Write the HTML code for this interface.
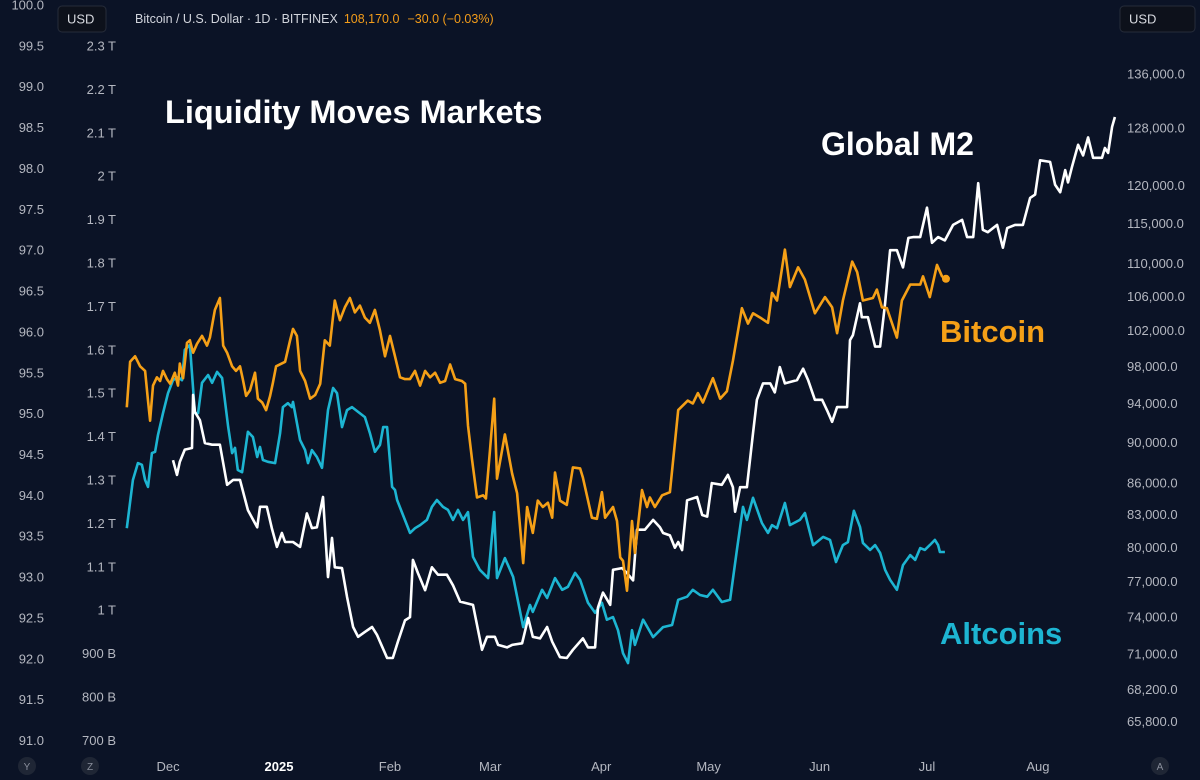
<!DOCTYPE html>
<html><head><meta charset="utf-8"><style>
html,body{margin:0;padding:0;background:#0b1326;}
#wrap{position:relative;width:1200px;height:780px;overflow:hidden;background:#0b1326;font-family:"Liberation Sans",sans-serif;}
svg{position:absolute;left:0;top:0;}
</style></head><body>
<div id="wrap">
<svg id="chart" width="1200" height="780" viewBox="0 0 1200 780">
  <g id="axes"></g>
  <g id="series"></g>
  <rect x="58" y="6" width="48" height="26" rx="4" fill="#0d111b" stroke="#262c3a"/>
  <text x="67" y="23.5" font-size="13" fill="#d8dae0">USD</text>
  <rect x="1120" y="6" width="75" height="26" rx="4" fill="#0d111b" stroke="#262c3a"/>
  <text x="1129" y="23.5" font-size="13" fill="#d8dae0">USD</text>
  <text x="135" y="23" font-size="12.5"><tspan fill="#d1d4dc">Bitcoin / U.S. Dollar · 1D · BITFINEX</tspan><tspan fill="#f39c1a" dx="6">108,170.0</tspan><tspan fill="#f39c1a" dx="8">−30.0 (−0.03%)</tspan></text>
  <text x="165" y="123" font-size="32.5" font-weight="bold" fill="#ffffff">Liquidity Moves Markets</text>
  <text x="821" y="155" font-size="32" font-weight="bold" fill="#ffffff">Global M2</text>
  <text x="940" y="342" font-size="31" font-weight="bold" fill="#f5a017">Bitcoin</text>
  <text x="940" y="644" font-size="31" font-weight="bold" fill="#1db5d2">Altcoins</text>
</svg>
</div>
<script>
// Days since 2025-01-01
const btcDays=[-42.5,-41.6,-40.2,-38.8,-37.4,-36.6,-36.0,-35.2,-34.1,-33.2,-32.4,-31.3,-30.4,-29.1,-28.2,-27.7,-26.8,-25.7,-24.9,-24.0,-22.9,-21.5,-20.1,-19.3,-17.9,-16.5,-15.6,-14.5,-13.1,-12.0,-10.9,-10.1,-9.2,-8.1,-6.7,-5.9,-4.7,-3.6,-2.5,-1.7,-0.8,1.7,3.1,3.9,5.0,5.9,7.3,8.7,10.1,11.5,12.8,14.2,15.6,17.0,18.4,19.8,21.2,22.6,24.0,25.4,26.8,28.2,29.6,31.0,32.4,33.8,35.2,36.6,38.0,39.4,40.8,42.2,43.6,45.0,46.4,47.8,49.2,51.1,52.0,52.8,53.9,55.3,57.0,57.8,58.9,60.1,60.9,63.1,65.1,66.5,68.2,69.3,70.9,72.3,73.7,75.1,76.3,77.1,78.5,80.4,82.1,84.1,84.9,87.4,88.8,90.2,91.1,93.3,94.4,95.3,96.1,97.2,98.6,99.4,101.4,102.8,103.6,105.0,107.0,109.2,111.5,114.2,115.6,117.0,118.4,121.2,123.2,125.1,126.8,129.3,131.0,132.4,134.4,136.6,137.7,139.1,141.3,142.7,145.0,146.9,149.7,152.5,154.5,155.9,157.5,160.1,161.5,163.1,165.9,167.0,168.4,169.8,172.6,174.0,176.3,179.1,179.9,181.8,183.8,185.2,186.3];
// Bitcoin price, thousands USD
const btcPrice=[93.6,98.5,99.1,98.0,97.5,94.3,92.2,95.9,96.8,96.4,97.5,96.6,96.1,97.3,95.9,98.3,96.7,100.6,100.9,99.5,100.5,101.4,100.3,101.2,104.4,105.8,100.3,99.5,98.0,97.5,98.0,96.6,94.8,95.4,97.3,94.5,94.1,93.3,94.8,96.2,98.0,98.5,100.9,102.2,101.4,97.5,96.4,94.5,94.9,96.1,100.9,100.3,105.5,103.2,104.7,105.8,104.1,104.9,103.5,102.9,104.4,102.0,99.1,101.4,99.1,96.8,96.6,96.6,97.5,95.9,97.5,96.8,97.3,96.2,96.4,98.2,96.6,96.4,96.1,91.7,88.3,84.6,84.8,84.5,89.1,94.5,86.4,90.8,86.9,85.0,78.6,83.7,81.3,84.3,83.7,84.1,82.7,87.0,84.3,83.9,87.5,87.4,86.5,82.7,82.6,85.1,82.7,83.7,82.4,79.1,78.8,76.2,82.4,79.5,85.3,83.7,84.6,83.7,84.8,85.1,93.3,94.3,94.0,95.1,94.1,96.7,94.5,95.3,98.6,104.6,102.8,104.0,103.5,102.9,106.4,105.5,111.7,107.1,109.5,108.0,104.0,105.9,104.7,101.7,105.5,110.2,108.9,105.5,105.8,106.8,104.7,104.6,101.2,105.5,107.4,107.4,108.4,105.9,109.8,108.4,108.1];
const altDays=[-42.5,-40.8,-39.4,-38.3,-37.4,-36.6,-35.5,-34.6,-33.8,-32.4,-31.0,-29.6,-28.2,-27.1,-26.3,-24.9,-23.5,-22.6,-21.5,-19.8,-18.7,-17.3,-15.9,-14.2,-13.1,-12.3,-11.5,-10.3,-8.7,-7.3,-6.1,-5.3,-4.5,-3.1,-1.1,0.3,1.1,2.5,3.6,3.9,5.9,7.3,8.1,9.2,10.6,12.0,13.7,15.1,16.2,17.6,19.0,20.4,22.1,24.0,25.4,26.8,28.2,29.1,30.2,31.6,32.4,33.0,34.4,36.6,38.0,39.4,41.3,42.7,44.1,45.8,47.2,48.6,50.0,51.4,52.8,54.2,56.1,58.4,60.1,60.9,63.1,65.4,68.2,70.1,70.9,73.5,74.9,77.1,79.1,80.7,82.7,84.1,86.3,88.3,90.2,91.6,93.3,94.7,96.1,97.5,98.6,99.4,101.7,104.5,107.3,109.8,111.5,114.0,115.6,117.6,119.6,121.2,123.7,126.0,127.9,129.6,130.7,132.4,134.9,136.6,137.7,139.1,141.3,142.7,145.5,146.9,149.2,152.0,153.9,155.6,157.5,158.9,160.6,162.3,163.1,165.1,166.5,167.9,169.3,170.7,172.6,174.3,176.3,177.7,179.1,180.4,181.8,183.2,184.1,184.6,186.0];
// Altcoin market cap, trillions USD
const altCap=[1.189,1.300,1.339,1.335,1.300,1.284,1.362,1.365,1.404,1.454,1.500,1.530,1.537,1.530,1.600,1.611,1.454,1.454,1.524,1.542,1.524,1.549,1.535,1.422,1.362,1.374,1.323,1.318,1.411,1.399,1.353,1.376,1.346,1.342,1.339,1.408,1.468,1.477,1.468,1.480,1.392,1.369,1.339,1.369,1.353,1.328,1.461,1.512,1.500,1.422,1.461,1.468,1.457,1.445,1.408,1.365,1.381,1.422,1.422,1.284,1.277,1.254,1.224,1.178,1.189,1.196,1.208,1.238,1.254,1.238,1.231,1.208,1.231,1.208,1.226,1.123,1.093,1.074,1.226,1.074,1.120,1.077,0.961,1.012,0.996,1.047,1.028,1.074,1.047,1.054,1.086,1.070,1.017,0.994,1.017,0.978,0.984,0.954,0.901,0.878,0.954,0.920,0.978,0.938,0.961,0.966,1.024,1.031,1.047,1.035,1.031,1.047,1.019,1.024,1.139,1.238,1.208,1.259,1.201,1.178,1.196,1.189,1.247,1.196,1.208,1.224,1.150,1.169,1.162,1.111,1.150,1.157,1.229,1.192,1.155,1.139,1.150,1.132,1.093,1.070,1.047,1.104,1.127,1.116,1.143,1.139,1.150,1.162,1.150,1.134,1.134];
const m2Days=[-29.6,-28.5,-27.7,-26.3,-24.3,-24.0,-23.5,-22.1,-20.7,-18.7,-16.5,-14.5,-12.8,-10.9,-8.7,-6.1,-5.3,-3.4,-2.0,-0.6,0.8,1.7,3.9,5.9,7.8,9.2,10.6,12.3,13.7,14.8,15.6,17.6,19.0,20.7,22.1,24.0,26.0,27.4,30.2,31.8,33.2,35.2,36.6,37.4,38.8,40.8,42.7,44.4,46.9,48.6,50.6,54.2,56.7,58.1,60.3,61.2,63.7,65.1,67.9,69.6,70.9,72.9,74.9,76.3,78.5,80.4,82.1,84.9,86.3,88.3,89.1,90.5,92.5,93.3,95.8,97.2,98.9,100.0,102.2,104.5,106.4,107.3,109.2,110.6,111.5,112.6,114.0,116.8,118.2,119.6,120.9,123.7,125.4,126.8,127.4,128.8,130.7,132.4,133.5,135.2,137.2,138.5,139.9,141.3,144.7,146.4,147.8,149.7,151.7,153.1,154.5,155.9,158.7,159.5,160.3,162.3,162.8,164.5,166.5,167.9,169.3,170.7,172.6,174.3,175.8,177.1,179.1,181.0,182.4,184.1,186.0,188.3,190.8,192.2,193.9,195.3,196.6,198.0,200.6,202.2,203.4,205.6,207.8,209.8,211.2,212.6,215.4,216.8,218.2,219.6,220.4,221.5,223.2,224.6,226.0,227.4,229.9,230.7,231.6,232.7,233.5];
// Global M2 index (left outer axis)
const m2Index=[94.43,94.25,94.41,94.56,94.58,95.23,95.02,94.92,94.64,94.62,94.62,94.13,94.19,94.19,93.82,93.61,93.86,93.86,93.60,93.37,93.54,93.43,93.43,93.37,93.78,93.60,93.61,93.98,93.00,93.48,93.12,93.11,92.76,92.39,92.27,92.33,92.39,92.29,92.01,92.01,92.21,92.47,92.51,93.21,93.05,92.84,93.12,93.03,93.03,92.90,92.70,92.66,92.11,92.27,92.27,92.17,92.14,92.17,92.19,92.50,92.27,92.25,92.39,92.21,92.02,92.01,92.11,92.25,92.14,92.14,92.63,92.81,92.66,93.09,93.11,93.05,92.96,93.58,93.58,93.70,93.61,93.54,93.51,93.36,93.43,93.33,93.94,93.98,93.76,93.74,94.15,94.13,94.25,94.10,93.80,94.10,94.10,94.76,95.17,95.37,95.37,95.26,95.57,95.37,95.41,95.55,95.41,95.17,95.17,95.04,94.90,95.08,95.08,95.90,95.96,96.35,96.18,96.18,95.82,95.82,96.35,97.00,97.00,96.79,97.15,97.16,97.16,97.52,97.09,97.16,97.12,97.31,97.37,97.16,97.16,97.82,97.25,97.22,97.31,97.03,97.27,97.31,97.31,97.64,97.68,98.10,98.08,97.80,97.71,97.98,97.83,98.02,98.29,98.16,98.38,98.13,98.13,98.25,98.19,98.51,98.63];
const leftTicks=["100.0","99.5","99.0","98.5","98.0","97.5","97.0","96.5","96.0","95.5","95.0","94.5","94.0","93.5","93.0","92.5","92.0","91.5","91.0"];
const capTicks=[2.3,2.2,2.1,2.0,1.9,1.8,1.7,1.6,1.5,1.4,1.3,1.2,1.1,1.0,0.9,0.8,0.7];
const capTickLabels=["2.3 T","2.2 T","2.1 T","2 T","1.9 T","1.8 T","1.7 T","1.6 T","1.5 T","1.4 T","1.3 T","1.2 T","1.1 T","1 T","900 B","800 B","700 B"];
const priceTicks=[136000,128000,120000,115000,110000,106000,102000,98000,94000,90000,86000,83000,80000,77000,74000,71000,68200,65800];
const monthLabels=["Dec","2025","Feb","Mar","Apr","May","Jun","Jul","Aug"];
const monthDays=[-31,0,31,59,90,120,151,181,212];

const NS="http://www.w3.org/2000/svg";
const xDay=d=>279+d*3.58;
const yM2=v=>5+(100-v)*81.73;
const yCap=v=>46+(2.3-v)*434;
const yPrice=p=>74+(Math.log(136000)-Math.log(p))*892;

const axes=document.getElementById('axes');
const series=document.getElementById('series');
function txt(parent,x,y,s,anchor,size,fill,weight){
  const t=document.createElementNS(NS,'text');
  t.setAttribute('x',x);t.setAttribute('y',y);
  t.setAttribute('text-anchor',anchor);t.setAttribute('font-size',size);
  t.setAttribute('fill',fill);if(weight)t.setAttribute('font-weight',weight);
  t.textContent=s;parent.appendChild(t);return t;
}
leftTicks.forEach(s=>{
  const t=txt(axes,44,yM2(parseFloat(s))+4.5,s,'end',13,'#b4b7c0');
  
  
});
capTicks.forEach((v,i)=>{
  const t=txt(axes,116,yCap(v)+4.5,capTickLabels[i],'end',13,'#b4b7c0');
  
  
});
priceTicks.forEach(p=>{
  const t=txt(axes,1127,yPrice(p)+4.5,p.toLocaleString('en-US')+'.0','start',13,'#b4b7c0');
  
  
});
monthLabels.forEach((m,i)=>{
  const bold=m==='2025';
  const t=txt(axes,xDay(monthDays[i]),771,m,'middle',13,bold?'#ffffff':'#b4b7c0',bold?'bold':null);
  
  
});
[[27,'Y'],[90,'Z'],[1160,'A']].forEach(([x,l])=>{
  const c=document.createElementNS(NS,'circle');
  c.setAttribute('cx',x);c.setAttribute('cy',766);c.setAttribute('r',9);c.setAttribute('fill','#1f2635');
  
  
  axes.appendChild(c);
  const t=txt(axes,x,770,l,'middle',10,'#8a8f9c');
  
  
});
function line(days,vals,yf,color,name){
  const p=document.createElementNS(NS,'path');
  let d='';
  days.forEach((dd,i)=>{d+=(i?'L':'M')+xDay(dd).toFixed(1)+','+yf(vals[i]).toFixed(1);});
  p.setAttribute('d',d);p.setAttribute('fill','none');p.setAttribute('stroke',color);
  p.setAttribute('stroke-width','2.6');p.setAttribute('stroke-linejoin','round');
  
  
  series.appendChild(p);
}
line(altDays,altCap,yCap,'#1db5d2','altcoins-line');
line(m2Days,m2Index,yM2,'#ffffff','global-m2-line');
line(btcDays,btcPrice.map(v=>v*1000),yPrice,'#f5a017','bitcoin-line');
const last=btcDays.length-1;
const dot=document.createElementNS(NS,'circle');
dot.setAttribute('cx',xDay(btcDays[last]));dot.setAttribute('cy',yPrice(btcPrice[last]*1000));
dot.setAttribute('r',4);dot.setAttribute('fill','#f5a017');


series.appendChild(dot);
</script>
</body></html>
